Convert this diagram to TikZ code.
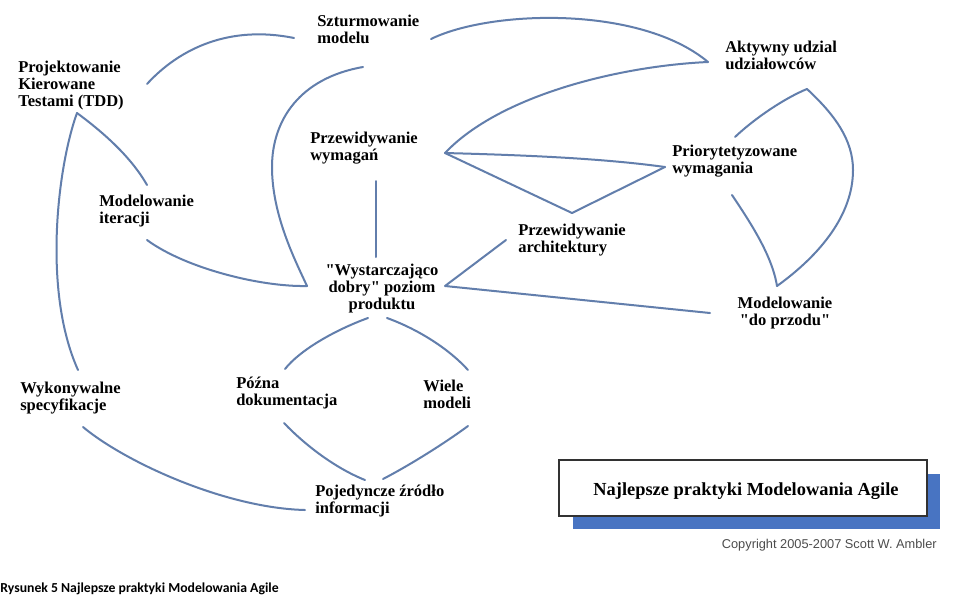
\documentclass[tikz,border=0pt]{standalone}
\usepackage{fontspec}
\setmainfont{Liberation Serif}
\newfontfamily\copyfont{Liberation Sans}
\newfontfamily\capfont{Carlito}
\usepackage{tikz}
\usetikzlibrary{calc,positioning}
\definecolor{linia}{RGB}{98,126,172}
\definecolor{cien}{RGB}{72,116,194}
\definecolor{ramka}{RGB}{50,50,50}

\begin{document}
\begin{tikzpicture}[x=0.75pt, y=-0.75pt,
    lbl/.style={inner sep=0pt, align=left, font=\fontsize{12.4}{12.75}\selectfont\bfseries},
    lblc/.style={lbl, align=center},
    link/.style={draw=linia, line width=1.5pt, line cap=round, line join=round}]
                \fill[white] (0,0) rectangle (960,597);
                \useasboundingbox (0,0) rectangle (960,597);
                % practices (anchored at the baseline of the last line)
                \node[lbl, anchor=base west] (sturm) at (317,43) {Szturmowanie\\modelu};
                \node[lbl, anchor=base west] (tdd) at (18,106) {Projektowanie\\Kierowane\\Testami (TDD)};
                \node[lbl, anchor=base west] (iter) at (99,223) {Modelowanie\\iteracji};
                \node[lbl, anchor=base west] (przewym) at (310,160) {Przewidywanie\\wymagań};
                \node[lblc, anchor=base] (wystarcz) at (382,309) {\textquotedbl Wystarczająco\\dobry\textquotedbl{} poziom\\produktu};
                \node[lbl, anchor=base west] (aktyw) at (725,69) {Aktywny udzial\\udziałowców};
                \node[lbl, anchor=base west] (prior) at (672,173) {Priorytetyzowane\\wymagania};
                \node[lbl, anchor=base west] (przearch) at (518,252) {Przewidywanie\\architektury};
                \node[lblc, anchor=base] (dprzodu) at (785,325) {Modelowanie\\\textquotedbl do przodu\textquotedbl};
                \node[lbl, anchor=base west] (pozna) at (236,405) {Późna\\dokumentacja};
                \node[lbl, anchor=base west] (wiele) at (423,408) {Wiele\\modeli};
                \node[lbl, anchor=base west] (wykon) at (20,410) {Wykonywalne\\specyfikacje};
                \node[lbl, anchor=base west] (pojed) at (315,513) {Pojedyncze źródło\\informacji};

                % end points of the links
                \coordinate (tdd-e) at (147,84);
                \coordinate (tdd-s) at (77,113);
                \coordinate (sturm-w) at (294,38);
                \coordinate (sturm-e) at (431,39);
                \coordinate (sturm-s) at (363,67);
                \coordinate (aktyw-w) at (708,62);
                \coordinate (przewym-e) at (445,153);
                \coordinate (przewym-s) at (376,181);
                \coordinate (prior-w) at (665,167);
                \coordinate (prior-n) at (735,137);
                \coordinate (prior-s) at (732,195);
                \coordinate (tri-s) at (572,213);
                \coordinate (iter-n) at (147,185);
                \coordinate (iter-s) at (147,240);
                \coordinate (wystarcz-n) at (376,257);
                \coordinate (wystarcz-w) at (307,286);
                \coordinate (wystarcz-e) at (445,286);
                \coordinate (wystarcz-sw) at (368,318);
                \coordinate (wystarcz-se) at (387,318);
                \coordinate (przearch-w) at (506,240);
                \coordinate (dprzodu-w) at (710,313);
                \coordinate (dprzodu-n) at (777,286);
                \coordinate (petla) at (807,89);
                \coordinate (pozna-n) at (285,369);
                \coordinate (pozna-s) at (284,423);
                \coordinate (wiele-n) at (468,370);
                \coordinate (wiele-s) at (468,426);
                \coordinate (wykon-n) at (78,370);
                \coordinate (wykon-s) at (83,427);
                \coordinate (pojed-w) at (305,510);
                \coordinate (pojed-nw) at (365,480);
                \coordinate (pojed-ne) at (383,479);

                % links
                \draw[link] (tdd-e) .. controls (180,48) and (230,25) .. (sturm-w);
                \draw[link] (sturm-e) .. controls (490,10) and (640,5) .. (aktyw-w);
                \draw[link] (aktyw-w) .. controls (620,66) and (500,95) .. (przewym-e);
                \draw[link] (przewym-e) .. controls (520,155) and (600,158) .. (prior-w);
                \draw[link] (przewym-e) -- (tri-s) -- (prior-w);
                \draw[link] (sturm-s) .. controls (300,78) and (272,120) .. (272,167)
                                      .. controls (272,215) and (295,260) .. (wystarcz-w);
                \draw[link] (wystarcz-w) .. controls (260,287) and (185,268) .. (iter-s);
                \draw[link] (tdd-s) .. controls (100,130) and (130,155) .. (iter-n);
                \draw[link] (tdd-s) .. controls (58,165) and (42,290) .. (wykon-n);
                \draw[link] (wykon-s) .. controls (125,462) and (225,508) .. (pojed-w);
                \draw[link] (przewym-s) -- (wystarcz-n);
                \draw[link] (przearch-w) -- (wystarcz-e) -- (dprzodu-w);
                \draw[link] (wystarcz-sw) .. controls (335,330) and (300,350) .. (pozna-n);
                \draw[link] (wystarcz-se) .. controls (420,330) and (450,350) .. (wiele-n);
                \draw[link] (pozna-s) .. controls (305,445) and (335,468) .. (pojed-nw);
                \draw[link] (wiele-s) .. controls (445,443) and (410,465) .. (pojed-ne);
                \draw[link] (prior-n) .. controls (755,118) and (785,98) .. (petla);
                \draw[link] (petla) .. controls (835,115) and (853,140) .. (853,170)
                                   .. controls (853,215) and (820,255) .. (dprzodu-n);
                \draw[link] (prior-s) .. controls (750,222) and (772,255) .. (dprzodu-n);

                % title box
                \fill[cien] (573,474) rectangle (940,529);
                \draw[ramka, fill=white, line width=1pt] (559,460) rectangle (927,516);
                \node[inner sep=0pt, anchor=base, font=\fontsize{13.8}{16}\selectfont\bfseries] (tytul) at (746,495) {Najlepsze praktyki Modelowania Agile};
                \node[inner sep=0pt, anchor=base east, text=black!70, font=\copyfont\fontsize{9.6}{11}\selectfont] (copy) at (937,548) {Copyright 2005-2007 Scott W. Ambler};
                \node[inner sep=0pt, anchor=base west, font=\capfont\bfseries\fontsize{10.3}{12}\selectfont] (podpis) at (0,592) {Rysunek 5 Najlepsze praktyki Modelowania Agile};
            \end{tikzpicture}
\end{document}
